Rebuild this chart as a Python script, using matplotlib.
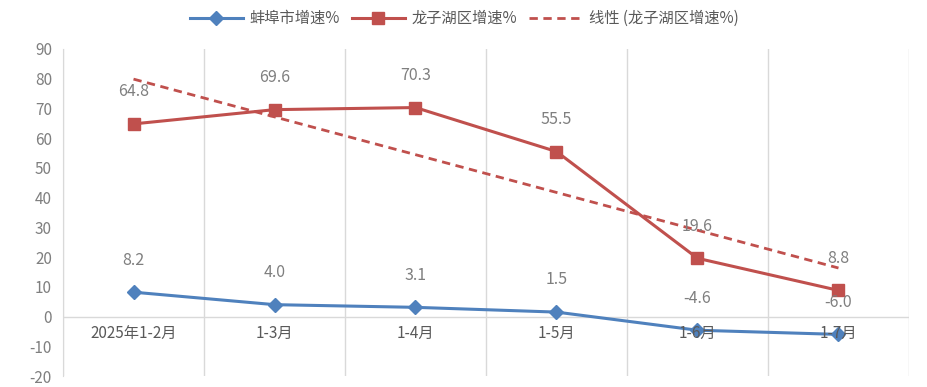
import matplotlib
matplotlib.use("Agg")
import matplotlib.pyplot as plt
import numpy as np

plt.rcParams['font.family'] = ['Noto Sans CJK SC', 'DejaVu Sans']

categories = ["2025年1-2月", "1-3月", "1-4月", "1-5月", "1-6月", "1-7月"]
bengbu = [8.2, 4.0, 3.1, 1.5, -4.6, -6.0]
longzihu = [64.8, 69.6, 70.3, 55.5, 19.6, 8.8]
yticks = list(range(-20, 91, 10))

blue = "#4F81BD"
red = "#C0504D"
gray = "#7F7F7F"
grid = "#D9D9D9"

fig = plt.figure(figsize=(9.28, 3.87), dpi=100)
ax = fig.add_axes([0.0679, 0.0284, 0.9116, 0.845])

x = np.arange(len(categories))
ax.plot(x, bengbu, color=blue, lw=2.2, marker="D", ms=7, label="蚌埠市增速%", zorder=3)
ax.plot(x, longzihu, color=red, lw=2.2, marker="s", ms=8, label="龙子湖区增速%", zorder=3)
coef = np.polyfit(x, longzihu, 1)
ax.plot(x, np.polyval(coef, x), color=red, lw=2.0, ls=(0, (3, 2)), label="线性 (龙子湖区增速%)", zorder=2)

for xi, v in zip(x, bengbu):
    ax.annotate(f"{v:.1f}", (xi, v), xytext=(0, 17), textcoords="offset points",
                ha="center", va="bottom", color=gray, fontsize=11.5)
for xi, v in zip(x, longzihu):
    ax.annotate(f"{v:.1f}", (xi, v), xytext=(0, 17), textcoords="offset points",
                ha="center", va="bottom", color=gray, fontsize=11.5)

ax.set_xlim(-0.5, len(categories) - 0.5)
ax.set_ylim(-20, 90)
ax.set_yticks(yticks)
ax.set_yticklabels([str(t) for t in yticks], color=gray, fontsize=11)
ax.set_xticks([])
for b in np.arange(-0.5, len(categories), 1.0):
    ax.axvline(b, color=grid, lw=1, zorder=0)
ax.axhline(0, color=grid, lw=1, zorder=1)
for xi, c in zip(x, categories):
    ax.text(xi, -5.6, c, ha="center", va="center", color="#595959", fontsize=11)

for s in ["top", "right", "bottom"]:
    ax.spines[s].set_visible(False)
ax.spines["left"].set_color(grid)
ax.tick_params(axis="y", length=0, pad=8)

fig.legend(loc="center", bbox_to_anchor=(0.5, 0.952), ncol=3, frameon=False,
           fontsize=11, handlelength=3.5, columnspacing=0.8, handletextpad=0.4,
           labelcolor="#595959")

fig.savefig("out.png", dpi=100)
